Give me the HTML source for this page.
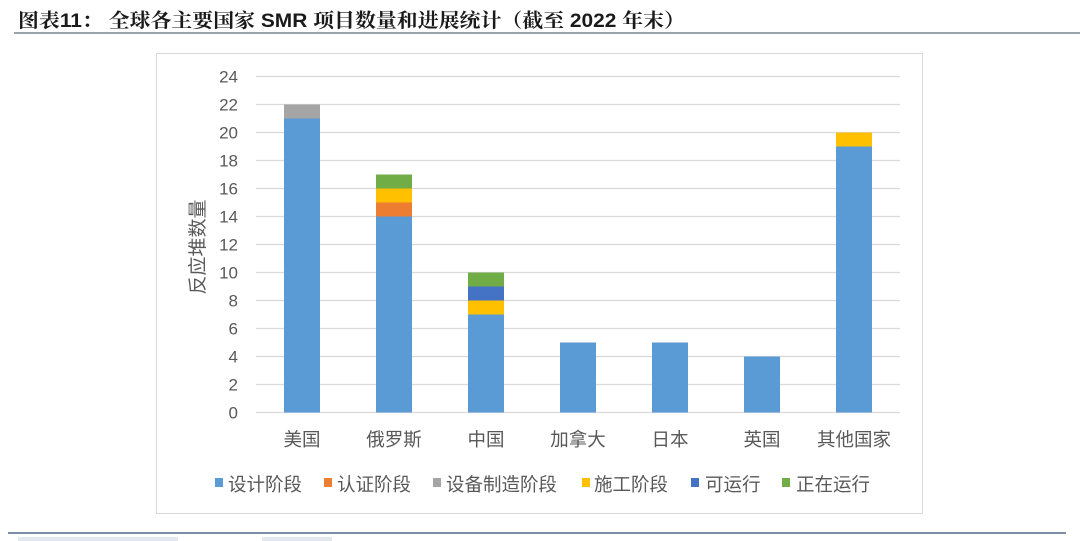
<!DOCTYPE html>
<html><head><meta charset="utf-8"><style>
html,body{margin:0;padding:0;background:#fff;}
svg{display:block;}
</style></head><body>
<svg width="1080" height="541" viewBox="0 0 1080 541" xmlns="http://www.w3.org/2000/svg">
<rect width="1080" height="541" fill="#fff"/>
<!-- Title -->
<text x="18" y="27" font-family="'Liberation Sans','Noto Serif CJK SC',serif" font-weight="bold" font-size="19.5" fill="#1a1a1a" textLength="667" lengthAdjust="spacingAndGlyphs">图表11：  全球各主要国家 SMR 项目数量和进展统计（截至 2022 年末）</text>
<rect x="14" y="32" width="1066" height="2" fill="#9aa3ad"/>
<!-- chart frame -->
<rect x="156.5" y="53.5" width="766" height="460" fill="#fff" stroke="#d9d9d9" stroke-width="1"/>
<!-- gridlines -->
<g stroke="#d9d9d9" stroke-width="1.3">
<line x1="256" x2="900" y1="76.5" y2="76.5"/>
<line x1="256" x2="900" y1="104.5" y2="104.5"/>
<line x1="256" x2="900" y1="132.5" y2="132.5"/>
<line x1="256" x2="900" y1="160.5" y2="160.5"/>
<line x1="256" x2="900" y1="188.5" y2="188.5"/>
<line x1="256" x2="900" y1="216.5" y2="216.5"/>
<line x1="256" x2="900" y1="244.5" y2="244.5"/>
<line x1="256" x2="900" y1="272.5" y2="272.5"/>
<line x1="256" x2="900" y1="300.5" y2="300.5"/>
<line x1="256" x2="900" y1="328.5" y2="328.5"/>
<line x1="256" x2="900" y1="356.5" y2="356.5"/>
<line x1="256" x2="900" y1="384.5" y2="384.5"/>
<line x1="256" x2="900" y1="412.5" y2="412.5"/>
</g>
<!-- y labels -->
<g font-family="'Liberation Sans',sans-serif" font-size="17" fill="#595959" text-anchor="end">
<text x="238" y="82.5">24</text>
<text x="238" y="110.5">22</text>
<text x="238" y="138.5">20</text>
<text x="238" y="166.5">18</text>
<text x="238" y="194.5">16</text>
<text x="238" y="222.5">14</text>
<text x="238" y="250.5">12</text>
<text x="238" y="278.5">10</text>
<text x="238" y="306.5">8</text>
<text x="238" y="334.5">6</text>
<text x="238" y="362.5">4</text>
<text x="238" y="390.5">2</text>
<text x="238" y="418.5">0</text>
</g>
<text transform="translate(204,247) rotate(-90)" text-anchor="middle" font-family="'Liberation Sans','Noto Sans CJK SC',sans-serif" font-size="19" fill="#595959">反应堆数量</text>
<!-- bars: y = 412.5 - v*14 -->
<!-- USA -->
<rect x="284" y="118.5" width="36" height="294" fill="#5b9bd5"/>
<rect x="284" y="104.5" width="36" height="14" fill="#a5a5a5"/>
<!-- Russia -->
<rect x="376" y="216.5" width="36" height="196" fill="#5b9bd5"/>
<rect x="376" y="202.5" width="36" height="14" fill="#ed7d31"/>
<rect x="376" y="188.5" width="36" height="14" fill="#ffc000"/>
<rect x="376" y="174.5" width="36" height="14" fill="#70ad47"/>
<!-- China -->
<rect x="468" y="314.5" width="36" height="98" fill="#5b9bd5"/>
<rect x="468" y="300.5" width="36" height="14" fill="#ffc000"/>
<rect x="468" y="286.5" width="36" height="14" fill="#4472c4"/>
<rect x="468" y="272.5" width="36" height="14" fill="#70ad47"/>
<!-- Canada -->
<rect x="560" y="342.5" width="36" height="70" fill="#5b9bd5"/>
<!-- Japan -->
<rect x="652" y="342.5" width="36" height="70" fill="#5b9bd5"/>
<!-- UK -->
<rect x="744" y="356.5" width="36" height="56" fill="#5b9bd5"/>
<!-- Others -->
<rect x="836" y="146.5" width="36" height="266" fill="#5b9bd5"/>
<rect x="836" y="132.5" width="36" height="14" fill="#ffc000"/>
<!-- x labels -->
<g font-family="'Liberation Sans','Noto Sans CJK SC',sans-serif" font-size="18.5" fill="#595959" text-anchor="middle">
<text x="302" y="446">美国</text>
<text x="394" y="446">俄罗斯</text>
<text x="486" y="446">中国</text>
<text x="578" y="446">加拿大</text>
<text x="670" y="446">日本</text>
<text x="762" y="446">英国</text>
<text x="854" y="446">其他国家</text>
</g>
<!-- legend -->
<g font-family="'Liberation Sans','Noto Sans CJK SC',sans-serif" font-size="18.5" fill="#595959">
<rect x="215" y="478" width="8" height="9" fill="#5b9bd5"/>
<text x="228" y="491">设计阶段</text>
<rect x="324" y="478" width="8" height="9" fill="#ed7d31"/>
<text x="337" y="491">认证阶段</text>
<rect x="433" y="478" width="8" height="9" fill="#a5a5a5"/>
<text x="446" y="491">设备制造阶段</text>
<rect x="582" y="478" width="8" height="9" fill="#ffc000"/>
<text x="594" y="491">施工阶段</text>
<rect x="691" y="478" width="8" height="9" fill="#4472c4"/>
<text x="705" y="491">可运行</text>
<rect x="782" y="478" width="8" height="9" fill="#70ad47"/>
<text x="796" y="491">正在运行</text>
</g>
<!-- bottom rule -->
<rect x="8" y="532" width="1058" height="2" fill="#7d8fa6"/>
<g fill="#e3e7ee">
<rect x="18" y="537" width="160" height="4"/>
<rect x="262" y="537" width="70" height="4"/>
</g>
</svg>
</body></html>
